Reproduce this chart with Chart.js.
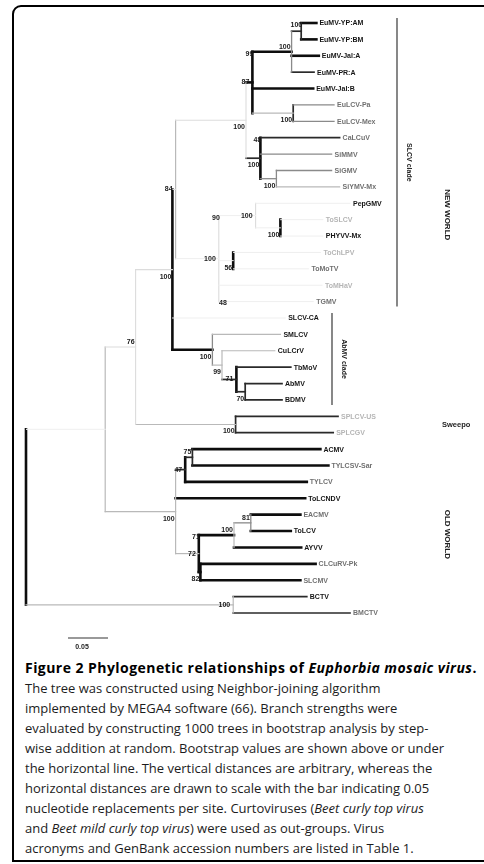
<!DOCTYPE html>
<html><head><meta charset="utf-8">
<script src="https://cdn.jsdelivr.net/npm/chart.js@4/dist/chart.umd.min.js"></script>
<style>
html,body{margin:0;padding:0;background:#fff;width:484px;height:864px;overflow:hidden;}
#frame{position:absolute;left:12px;top:5px;width:495px;height:857px;border:2px solid #000;border-top-left-radius:9px;box-sizing:border-box;}
#c{position:absolute;left:0;top:0;}
#cap{position:absolute;left:25px;top:658px;width:470px;font-family:'Open Sans';font-size:13px;line-height:20px;color:#1c1c1c;white-space:nowrap;}
#cap .t{font-weight:bold;color:#000;font-size:14px;letter-spacing:0.45px;}
</style></head><body>
<div id="frame"></div>
<canvas id="c" width="484" height="650"></canvas>
<div id="cap"></div>
<script>
// ---------------- DATA ----------------
// Tip (taxon) labels, top to bottom
const tipNames = [
 'EuMV-YP:AM','EuMV-YP:BM','EuMV-Jal:A','EuMV-PR:A','EuMV-Jal:B','EuLCV-Pa','EuLCV-Mex',
 'CaLCuV','SiMMV','SiGMV','SiYMV-Mx','PepGMV','ToSLCV','PHYVV-Mx','ToChLPV','ToMoTV','ToMHaV','TGMV',
 'SLCV-CA','SMLCV','CuLCrV','TbMoV','AbMV','BDMV',
 'SPLCV-US','SPLCGV',
 'ACMV','TYLCSV-Sar','TYLCV','ToLCNDV','EACMV','ToLCV','AYVV','CLCuRV-Pk','SLCMV',
 'BCTV','BMCTV'
];
// Tree: each branch = node, its parent, and its length (nucleotide replacements per site)
const branchNode = ['P','O','BCTV','BMCTV','Q','OW','AF','SPLCV-US','SPLCGV','NW','NWA','SLCV-CA','M',
 'SMLCV','S','CuLCrV','U','TbMoV','V','AbMV','BDMV',
 'H','C','B','A','EuMV-YP:AM','EuMV-YP:BM','EuMV-Jal:A','EuMV-PR:A','EuMV-Jal:B','D','EuLCV-Pa','EuLCV-Mex',
 'F','CaLCuV','SiMMV','G','SiGMV','SiYMV-Mx',
 'I','J','PepGMV','K','ToSLCV','PHYVV-Mx','L2','ToChLPV','ToMoTV','ToMHaV','TGMV',
 'W','X','ACMV','TYLCSV-Sar','TYLCV','ToLCNDV','Y','Z','AA','EACMV','ToLCV','AYVV','Y2','CLCuRV-Pk','SLCMV'];
const branchParent = ['root','root','O','O','P','P','Q','AF','AF','Q','NW','NW','NW',
 'M','M','S','S','U','U','V','V',
 'NWA','H','C','B','A','A','B','B','C','C','D','D',
 'H','F','F','F','G','G',
 'NWA','I','J','J','K','K','I','L2','L2','I','I',
 'OW','W','X','X','W','OW','OW','Y','Z','AA','AA','Z','Y','Y2','Y2'];
const branchLength = [0.099,0.259,0.092,0.146,0.038,0.088,0.125,0.128,0.122,0.046,0.004,0.141,0.050,
 0.085,0.012,0.066,0.018,0.068,0.011,0.046,0.046,
 0.088,0.008,0.049,0.012,0.019,0.019,0.034,0.028,0.076,0.051,0.051,0.051,
 0.018,0.099,0.089,0.020,0.069,0.079,
 0.054,0.046,0.118,0.031,0.053,0.053,0.018,0.109,0.094,0.129,0.118,
 0.012,0.009,0.160,0.170,0.152,0.162,0.029,0.044,0.021,0.062,0.050,0.084,0.002,0.144,0.125];
// Bootstrap values (node they belong to)
const bootNode  = ['A','B','C','C','D','H','F','F','G','J','I','I','K','L2','I','NW','NWA','M','S','U','V','AF','Q','OW','X','W','Z','AA','Y','Y','Y2','O'];
const bootValue = ['100','100','99','87','100','100','48','100','100','100','90','100','100','56','48','100','84','100','99','71','70','100','76','100','75','47','100','81','71','72','82','100'];
// Clade labels
const groupNames = ['SLCV clade','NEW WORLD','AbMV clade','Sweepo','OLD WORLD'];
const scaleBarValue = 0.05;
const scaleBarText = '0.05';

// ---------------- STYLE / PLACEMENT ----------------
const bootMode = ['top','above','top','left','below','below','top','below','below','left','top','left','below','below','bottom','below','left','below','below','left','below','below','above','below','above','left','above','above','top','left','below','left'];
const S = {
 bold:{c:'#0d0d0d',w:2.6}, dark:{c:'#2a2a2a',w:1.7}, mid:{c:'#8a8a8a',w:1.3},
 light:{c:'#b9b9b9',w:1.2}, faint:{c:'#dcdcdc',w:1.1}, ghost:{c:'#efefef',w:1}
};
// h = horizontal branch into node, v = node's vertical connector
const hStyle = {A:'dark','EuMV-YP:AM':'bold','EuMV-YP:BM':'bold',B:'bold','EuMV-Jal:A':'bold','EuMV-PR:A':'dark',
 C:'bold','EuMV-Jal:B':'bold',D:'light','EuLCV-Pa':'mid','EuLCV-Mex':'mid',H:'faint',F:'dark',CaLCuV:'dark',SiMMV:'mid',
 G:'mid',SiGMV:'mid','SiYMV-Mx':'light',NWA:'faint',I:'ghost',J:'ghost',PepGMV:'ghost',K:'ghost',ToSLCV:'ghost','PHYVV-Mx':'ghost',
 L2:'ghost',ToChLPV:'ghost',ToMoTV:'ghost',ToMHaV:'ghost',TGMV:'ghost',NW:'faint','SLCV-CA':'ghost',M:'bold',SMLCV:'light',
 S:'light',CuLCrV:'light',U:'dark',TbMoV:'dark',V:'dark',AbMV:'dark',BDMV:'dark',Q:'faint',AF:'light','SPLCV-US':'dark',SPLCGV:'dark',
 P:'ghost',OW:'light',W:'dark',X:'dark',ACMV:'bold','TYLCSV-Sar':'bold',TYLCV:'bold',ToLCNDV:'bold',Y:'light',Z:'bold',AA:'mid',
 EACMV:'bold',ToLCV:'bold',AYVV:'bold',Y2:'bold','CLCuRV-Pk':'bold',SLCMV:'bold',O:'light',BCTV:'dark',BMCTV:'dark'};
const vStyle = {A:'dark',B:'mid',C:'bold',D:'dark',H:'faint',F:'bold',G:'mid',NWA:'light',I:'faint',J:'faint',K:'bold',L2:'bold',
 NW:'bold',M:'mid',S:'light',U:'bold',V:'dark',AF:'dark',Q:'faint',P:'light',OW:'light',W:'bold',X:'dark',Y:'bold',Z:'light',AA:'mid',
 Y2:'bold',O:'light',root:'bold'};
const tipTone = ['d','d','d','d','d','m','m','m','m','m','m','d','l','d','l','m','l','m',
 'd','d','d','d','d','d','l','l','d','m','m','d','m','d','d','m','m','d','m'];
const toneColor = {d:'#151515',m:'#707070',l:'#b5b5b5'};

// ---------------- LAYOUT FROM DATA ----------------
const nodes = {root:{name:'root',x:0,children:[]}};
branchNode.forEach((n,i)=>{ nodes[n]=nodes[n]||{name:n,children:[]}; nodes[n].len=branchLength[i]; nodes[n].parent=branchParent[i]; });
branchNode.forEach((n,i)=>{ const p=branchParent[i]; nodes[p]=nodes[p]||{name:p,children:[]}; nodes[p].children.push(n); });
tipNames.forEach((n,i)=>{ nodes[n].y=i; });
function setX(n,x){ nodes[n].x=x; nodes[n].children.forEach(c=>setX(c,x+nodes[c].len)); }
setX('root',0);
function setY(n){ const nd=nodes[n]; if(!nd.children.length) return nd.y;
 const ys=nd.children.map(setY); nd.minY=Math.min(...ys); nd.maxY=Math.max(...ys); nd.y=(nd.minY+nd.maxY)/2; return nd.y; }
setY('root');

const datasets=[];
function seg(a,b,st){ const s=S[st]; datasets.push({data:[a,b],borderColor:s.c,borderWidth:s.w,pointRadius:0,showLine:true,fill:false,tension:0,borderCapStyle:'square',order:s.w}); }
const order=['ghost','faint','light','mid','dark','bold'];
const segs=[];
Object.values(nodes).forEach(nd=>{
 if(nd.children.length) segs.push([{x:nd.x,y:nd.minY},{x:nd.x,y:nd.maxY},vStyle[nd.name]||'mid']);
 if(nd.name!=='root') segs.push([{x:nodes[nd.parent].x,y:nd.y},{x:nd.x,y:nd.y},hStyle[nd.name]||'mid']);
});
segs.sort((a,b)=>order.indexOf(a[2])-order.indexOf(b[2])).forEach(s=>seg(s[0],s[1],s[2]));

const treePlugin={id:'tree',afterDatasetsDraw(chart){
 const ctx=chart.ctx, xs=chart.scales.x, ys=chart.scales.y;
 const px=v=>xs.getPixelForValue(v), py=v=>ys.getPixelForValue(v);
 ctx.save();
 ctx.textBaseline='middle';
 ctx.font='bold 7px "Liberation Sans", Arial, sans-serif';
 tipNames.forEach((n,i)=>{ const nd=nodes[n]; ctx.fillStyle=toneColor[tipTone[i]]; ctx.textAlign='left'; ctx.fillText(n,px(nd.x)+3,py(nd.y)+0.5); });
 ctx.fillStyle='#1a1a1a';
 bootNode.forEach((n,i)=>{ const nd=nodes[n], m=bootMode[i]; let x=px(nd.x), y=py(nd.y);
  ctx.textAlign='right';
  if(m==='above'){x-=1;y-=5;} else if(m==='below'){x-=1;y+=7;} else if(m==='left'){x-=3;}
  else if(m==='top'){x+=1;y=py(nd.minY)+2;} else if(m==='bottom'){x+=8;y=py(nd.maxY)+1;}
  ctx.fillText(bootValue[i],x,y); });
 // brackets
 const br=[[0,17,397],[18,23,332]];
 ctx.strokeStyle='#6a6a6a'; ctx.lineWidth=1.6;
 br.forEach(b=>{ ctx.beginPath(); ctx.moveTo(b[2],py(b[0])-5); ctx.lineTo(b[2],py(b[1])+5); ctx.stroke(); });
 // group labels
 function vtext(t,x,y,font){ ctx.save(); ctx.translate(x,y); ctx.rotate(Math.PI/2); ctx.font=font; ctx.textAlign='center'; ctx.textBaseline='middle'; ctx.fillText(t,0,0); ctx.restore(); }
 ctx.fillStyle='#222';
 vtext(groupNames[0],409,py(8.5),'bold 7px "Liberation Sans", Arial');
 vtext(groupNames[1],447,py(11.7),'bold 8px "Liberation Sans", Arial');
 vtext(groupNames[2],344,py(20.5),'bold 7px "Liberation Sans", Arial');
 ctx.font='bold 7.5px "Liberation Sans", Arial'; ctx.textAlign='left'; ctx.textBaseline='middle';
 ctx.fillText(groupNames[3],442,py(24.5));
 vtext(groupNames[4],447,py(31.2),'bold 8px "Liberation Sans", Arial');
 // scale bar
 const sbLeft=68, sbLen=px(scaleBarValue)-px(0), sbY=638;
 ctx.strokeStyle='#777'; ctx.lineWidth=1.3; ctx.beginPath(); ctx.moveTo(sbLeft,sbY); ctx.lineTo(sbLeft+sbLen,sbY); ctx.stroke();
 ctx.fillStyle='#222'; ctx.font='bold 7px "Liberation Sans", Arial'; ctx.textAlign='center'; ctx.fillText(scaleBarText,sbLeft+sbLen/2-6,sbY+9);
 ctx.restore();
}};

new Chart(document.getElementById('c'),{
 type:'scatter',
 data:{datasets},
 options:{responsive:false,animation:false,devicePixelRatio:1,
  layout:{padding:0},
  plugins:{legend:{display:false},tooltip:{enabled:false}},
  scales:{x:{type:'linear',display:false,min:-0.0325,max:0.5725},
          y:{type:'linear',display:false,reverse:true,min:-1.4034,max:38.258}}},
 plugins:[treePlugin]
});

// caption
const captionLines=[
 '<span class="t">Figure 2 Phylogenetic relationships of <i>Euphorbia mosaic virus</i>.</span>',
 'The tree was constructed using Neighbor-joining algorithm',
 'implemented by MEGA4 software (66). Branch strengths were',
 'evaluated by constructing 1000 trees in bootstrap analysis by step-',
 'wise addition at random. Bootstrap values are shown above or under',
 'the horizontal line. The vertical distances are arbitrary, whereas the',
 'horizontal distances are drawn to scale with the bar indicating 0.05',
 'nucleotide replacements per site. Curtoviruses (<i>Beet curly top virus</i>',
 'and <i>Beet mild curly top virus</i>) were used as out-groups. Virus',
 'acronyms and GenBank accession numbers are listed in Table 1.'
];
document.getElementById('cap').innerHTML=captionLines.map(l=>'<div>'+l+'</div>').join('');
</script>
</body></html>
